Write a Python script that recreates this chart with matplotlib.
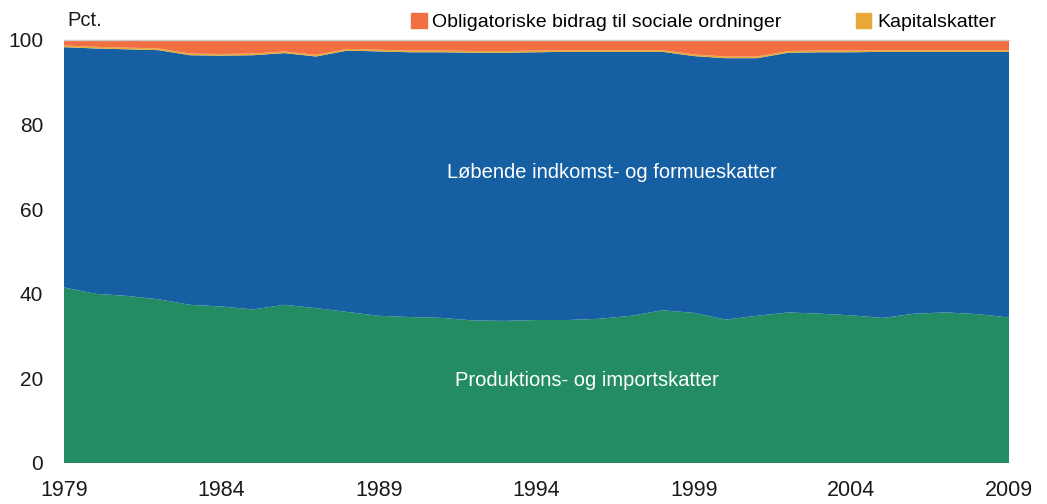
import matplotlib
matplotlib.use("Agg")
import matplotlib.pyplot as plt
from matplotlib.patches import Patch

plt.rcParams['font.family'] = ['Liberation Sans', 'DejaVu Sans']

years = list(range(1979, 2010))
produktion = [41.5, 40.0, 39.5, 38.7, 37.4, 37.0, 36.3, 37.4, 36.6, 35.7,
              34.8, 34.5, 34.3, 33.7, 33.6, 33.8, 33.8, 34.1, 34.8, 36.1,
              35.5, 33.9, 34.8, 35.6, 35.3, 34.9, 34.3, 35.3, 35.6, 35.2, 34.4]
blue_top = [98.3, 98.0, 97.8, 97.6, 96.4, 96.3, 96.4, 96.9, 96.1, 97.5,
            97.3, 97.1, 97.1, 97.0, 97.0, 97.1, 97.2, 97.2, 97.2, 97.2,
            96.2, 95.7, 95.7, 97.0, 97.1, 97.1, 97.2, 97.2, 97.2, 97.2, 97.2]
lobende = [t - p for t, p in zip(blue_top, produktion)]
kapital = [0.4] * len(years)
obligatorisk = [100 - t - k for t, k in zip(blue_top, kapital)]

c_green = '#238C62'
c_blue = '#175FA3'
c_orange = '#F26E43'
c_yellow = '#E8A838'

fig = plt.figure(figsize=(10.47, 5.04), dpi=100)
ax = fig.add_axes([64/1047, 41/504, 945/1047, 423/504])
ax.stackplot(years, produktion, lobende, kapital, obligatorisk,
             colors=[c_green, c_blue, c_yellow, c_orange], linewidth=0)
ax.set_xlim(1979, 2009)
ax.set_ylim(0, 100)
ax.set_xticks(range(1979, 2010, 5))
ax.set_yticks(range(0, 101, 20))
ax.tick_params(axis='y', length=0, labelsize=15, colors='#1a1a1a', pad=15)
ax.tick_params(axis='x', length=0, labelsize=15.5, colors='#1a1a1a', pad=12)
for s in ['left', 'right', 'bottom']:
    ax.spines[s].set_visible(False)
ax.spines['top'].set_color('#cccccc')
ax.spines['top'].set_linewidth(1)

ax.text(1996.4, 68.6, 'Løbende indkomst- og formueskatter', color='white',
        fontsize=14.5, ha='center', va='center')
ax.text(1995.6, 19.4, 'Produktions- og importskatter', color='white',
        fontsize=14.5, ha='center', va='center')
fig.text(67/1047, 1 - 20/504, 'Pct.', fontsize=14.5, va='center', ha='left', color='#1a1a1a')

handles = [Patch(color=c_orange), Patch(color=c_yellow)]
leg = fig.legend(handles, ['Obligatoriske bidrag til sociale ordninger', 'Kapitalskatter'],
                 loc='center left', bbox_to_anchor=(411/1047, 1 - 22/504), ncol=2,
                 frameon=False, fontsize=14, handlelength=0.8, handleheight=0.8,
                 handletextpad=0.3, columnspacing=3.8, borderaxespad=0, borderpad=0)

fig.savefig('out.png', dpi=100)
